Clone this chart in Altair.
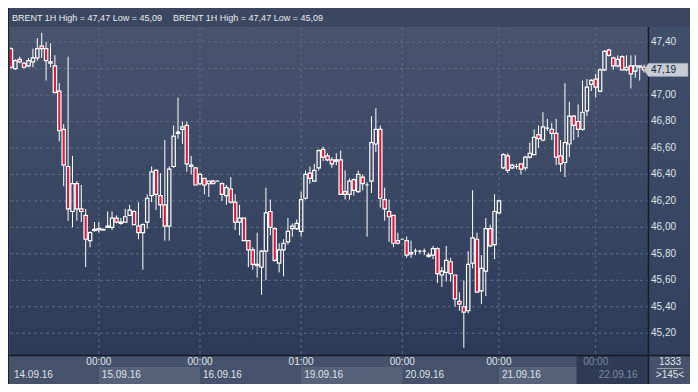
import altair as alt
import pandas as pd

# ---------------- data ----------------
opens = [47.35, 47.20, 47.27, 47.24, 47.22, 47.25, 47.28, 47.37, 47.35, 47.25,
         47.22, 47.03, 46.74, 46.46, 46.12, 46.33, 46.14, 46.09, 45.90, 45.975,
         45.99, 45.98, 46.00, 46.00, 46.07, 46.03, 46.04, 46.09, 46.12, 46.01,
         45.96, 46.04, 46.24, 46.43, 46.24, 46.17, 46.01, 46.46, 46.71, 46.74,
         46.77, 46.47, 46.45, 46.33, 46.37, 46.33, 46.35, 46.35, 46.33, 46.24,
         46.29, 46.19, 46.04, 46.07, 45.90, 45.83, 45.72, 45.70, 45.82, 46.12,
         45.99, 45.73, 45.83, 45.89, 45.99, 45.99, 45.97, 46.22, 46.41, 46.35,
         46.45, 46.59, 46.54, 46.51, 46.50, 46.51, 46.27, 46.25, 46.36, 46.27,
         46.38, 46.32, 46.35, 46.63, 46.74, 46.21, 46.12, 46.09, 45.90, 45.91,
         45.90, 45.81, 45.82, 45.82, 45.82, 45.79, 45.79, 45.84, 45.64, 45.66,
         45.74, 45.64, 45.44, 45.40, 45.37, 45.73, 45.91, 45.52, 45.67, 45.99,
         45.87, 46.11, 46.45, 46.54, 46.45, 46.46, 46.48, 46.45, 46.53, 46.55,
         46.70, 46.66, 46.75, 46.74, 46.71, 46.54, 46.49, 46.63, 46.84, 46.80,
         46.74, 46.88, 47.08, 47.12, 47.03, 47.19, 47.34, 47.28, 47.22, 47.29,
         47.19, 47.22, 47.18, 47.21, 47.21]
highs = [47.36, 47.27, 47.29, 47.25, 47.28, 47.35, 47.43, 47.47, 47.40, 47.39,
         47.30, 47.09, 46.78, 47.29, 46.54, 46.35, 46.32, 46.14, 45.97, 46.04,
         46.04, 45.99, 46.12, 46.12, 46.09, 46.07, 46.14, 46.17, 46.13, 46.19,
         46.03, 46.25, 46.46, 46.44, 46.41, 46.66, 46.46, 46.77, 46.98, 46.80,
         46.80, 46.54, 46.45, 46.41, 46.37, 46.35, 46.36, 46.35, 46.34, 46.32,
         46.38, 46.25, 46.17, 46.07, 45.90, 45.85, 45.96, 45.83, 46.30, 46.21,
         46.00, 45.88, 45.91, 46.07, 46.03, 46.06, 46.27, 46.43, 46.46, 46.48,
         46.59, 46.61, 46.56, 46.53, 46.56, 46.58, 46.43, 46.37, 46.37, 46.43,
         46.40, 46.34, 46.84, 46.90, 46.77, 46.30, 46.21, 46.09, 45.96, 45.91,
         45.93, 45.90, 45.84, 45.83, 45.84, 45.81, 45.86, 45.85, 45.70, 45.86,
         45.77, 45.64, 45.51, 45.60, 45.82, 46.28, 45.96, 45.79, 46.07, 46.02,
         46.25, 46.21, 46.56, 46.56, 46.48, 46.48, 46.48, 46.54, 46.64, 46.74,
         46.77, 46.87, 46.82, 46.79, 46.82, 46.66, 47.09, 46.95, 46.85, 46.93,
         47.11, 47.12, 47.12, 47.16, 47.20, 47.34, 47.35, 47.29, 47.30, 47.30,
         47.30, 47.30, 47.30, 47.22, 47.23]
lows = [47.20, 47.19, 47.24, 47.20, 47.21, 47.21, 47.26, 47.28, 47.11, 47.21,
        47.01, 46.65, 46.31, 46.05, 46.00, 46.05, 46.04, 45.70, 45.85, 45.97,
        45.96, 45.98, 46.00, 45.98, 46.03, 46.02, 46.04, 46.09, 46.02, 45.91,
        45.68, 45.99, 46.19, 46.13, 46.07, 45.90, 45.90, 46.45, 46.67, 46.63,
        46.42, 46.40, 46.32, 46.32, 46.25, 46.23, 46.33, 46.35, 46.20, 46.17,
        46.18, 45.98, 45.94, 45.90, 45.70, 45.68, 45.62, 45.49, 45.60, 45.94,
        45.74, 45.66, 45.63, 45.87, 45.93, 45.98, 45.93, 46.21, 46.33, 46.35,
        46.43, 46.50, 46.50, 46.45, 46.47, 46.25, 46.21, 46.21, 46.24, 46.26,
        46.28, 45.93, 46.26, 46.57, 46.15, 46.05, 45.89, 45.85, 45.87, 45.91,
        45.77, 45.77, 45.79, 45.80, 45.79, 45.77, 45.76, 45.58, 45.55, 45.59,
        45.59, 45.40, 45.37, 45.09, 45.35, 45.69, 45.51, 45.42, 45.48, 45.85,
        45.76, 46.10, 46.44, 46.41, 46.44, 46.44, 46.40, 46.43, 46.52, 46.55,
        46.60, 46.65, 46.73, 46.66, 46.47, 46.42, 46.38, 46.53, 46.66, 46.68,
        46.73, 46.84, 47.03, 46.98, 47.02, 47.18, 47.29, 47.19, 47.21, 47.19,
        47.18, 47.05, 47.13, 47.11, 47.17]
closes = [47.21, 47.26, 47.25, 47.21, 47.26, 47.28, 47.35, 47.35, 47.26, 47.24,
          47.02, 46.73, 46.47, 46.14, 46.33, 46.14, 46.12, 45.91, 45.96, 45.985,
          45.98, 45.985, 46.01, 46.07, 46.04, 46.04, 46.08, 46.13, 46.02, 45.96,
          46.02, 46.22, 46.42, 46.25, 46.17, 46.01, 46.44, 46.69, 46.72, 46.76,
          46.48, 46.46, 46.32, 46.40, 46.32, 46.35, 46.33, 46.35, 46.25, 46.30,
          46.19, 46.04, 46.07, 45.90, 45.83, 45.72, 45.71, 45.82, 46.11, 46.00,
          45.75, 45.83, 45.88, 45.97, 46.01, 46.03, 46.21, 46.40, 46.37, 46.43,
          46.58, 46.53, 46.51, 46.48, 46.51, 46.25, 46.25, 46.35, 46.28, 46.40,
          46.33, 46.32, 46.64, 46.74, 46.22, 46.14, 46.08, 45.88, 45.88, 45.91,
          45.79, 45.80, 45.82, 45.82, 45.82, 45.78, 45.84, 45.65, 45.67, 45.75,
          45.65, 45.46, 45.42, 45.36, 45.72, 45.92, 45.51, 45.69, 45.99, 45.86,
          46.12, 46.20, 46.55, 46.43, 46.47, 46.46, 46.44, 46.53, 46.56, 46.68,
          46.67, 46.76, 46.75, 46.71, 46.53, 46.48, 46.64, 46.84, 46.77, 46.74,
          46.87, 47.06, 47.11, 47.06, 47.19, 47.33, 47.30, 47.22, 47.27, 47.19,
          47.21, 47.16, 47.22, 47.22, 47.19]

y_ticks = [45.2, 45.4, 45.6, 45.8, 46.0, 46.2, 46.4, 46.6, 46.8, 47.0, 47.2, 47.4]
day_idx = [20, 43, 66, 89, 111, 133]
time_labels = ["00:00", "00:00", "01:00", "00:00", "00:00", "00:00"]
date_idx = [0, 20, 43, 66, 89, 111, 133]
date_labels = ["14.09.16", "15.09.16", "16.09.16", "19.09.16", "20.09.16", "21.09.16", "22.09.16"]
box_start = [20, 66, 111]
box_end = [43, 89, 133]
title_text = "BRENT 1H High = 47,47 Low = 45,09"
bars_total = "1333"
bars_visible = ">145<"

# ---------------- layout / style ----------------
PW, PH = 638, 328
X_DOM = [-0.2115, 144.89]
Y_DOM = [45.0355, 47.514]
RED = "#e3173b"
GRID = "#5b6882"
LABEL = "#dfe3ea"
FADED = "#7b879c"
FONT = "Liberation Sans"

df = pd.DataFrame({"idx": list(range(len(opens))), "open": opens, "high": highs,
                   "low": lows, "close": closes})
one = pd.DataFrame({"a": [0]})

xs = alt.Scale(domain=X_DOM, nice=False, zero=False)
ys = alt.Scale(domain=Y_DOM, nice=False, zero=False)
COMMA = "replace(format(datum.{}, '.2f'), '.', ',')"


def grad(top, bottom):
    return alt.LinearGradient(gradient="linear",
                              stops=[alt.GradientStop(color=top, offset=0),
                                     alt.GradientStop(color=bottom, offset=1)],
                              x1=0, x2=0, y1=0, y2=1)


def panel(x0, x1, y0, y1, color):
    return alt.Chart(one).mark_rect(color=color).encode(
        x=alt.value(x0), x2=alt.value(x1), y=alt.value(y0), y2=alt.value(y1))


plot_bg = panel(0, PW, 0, PH, grad("#48546e", "#2c3a58"))
right_bg = panel(PW, PW + 42, 0, PH, grad("#414e6a", "#33405d"))
bottom_bg = panel(-2, PW + 42, PH, PH + 29, "#46526b")

boxes = alt.Chart(pd.DataFrame({"s": box_start, "e": box_end})).mark_rect(color="#56627a").encode(
    x=alt.X("s:Q", scale=xs, axis=None), x2="e:Q",
    y=alt.value(PH + 12), y2=alt.value(PH + 29))
dark_box = panel(566.5, PW, PH + 1, PH + 29, "#2f3b55")

tick_df = pd.DataFrame({"v": y_ticks})
hgrid = alt.Chart(tick_df).mark_rule(color=GRID, strokeDash=[3, 3], strokeWidth=1).encode(
    y=alt.Y("v:Q", scale=ys, axis=None), x=alt.value(0), x2=alt.value(PW))
ylabels = alt.Chart(tick_df).transform_calculate(lbl=COMMA.format("v")).mark_text(
    align="left", baseline="middle", font=FONT, fontSize=10, color=LABEL).encode(
    y=alt.Y("v:Q", scale=ys, axis=None), x=alt.value(PW + 3), text="lbl:N")
vgrid = alt.Chart(pd.DataFrame({"i": day_idx})).mark_rule(color=GRID, strokeDash=[3, 3], strokeWidth=1).encode(
    x=alt.X("i:Q", scale=xs, axis=None), y=alt.value(0), y2=alt.value(PH))

candles = alt.Chart(df).transform_calculate(
    top="max(datum.open, datum.close)", bot="min(datum.open, datum.close)",
    x0="datum.idx - 0.38", x1="datum.idx + 0.38")

wick_hi = candles.mark_rule(color="white", strokeWidth=1, clip=True).encode(
    x=alt.X("idx:Q", scale=xs, axis=None), y=alt.Y("high:Q", scale=ys, axis=None), y2="top:Q")
wick_lo = candles.mark_rule(color="white", strokeWidth=1, clip=True).encode(
    x=alt.X("idx:Q", scale=xs, axis=None), y=alt.Y("bot:Q", scale=ys, axis=None), y2="low:Q")
bodies = candles.mark_rect(stroke="white", strokeWidth=1.2, clip=True).encode(
    x=alt.X("x0:Q", scale=xs, axis=None), x2="x1:Q",
    y=alt.Y("top:Q", scale=ys, axis=None), y2="bot:Q",
    fill=alt.condition("datum.close < datum.open", alt.value(RED), alt.value("transparent")))

sep_v = alt.Chart(one).mark_rule(color="#151b27", strokeWidth=1.5).encode(
    x=alt.value(PW + 0.5), y=alt.value(0), y2=alt.value(PH + 29))
sep_h = alt.Chart(one).mark_rule(color="#151b27", strokeWidth=1.5).encode(
    y=alt.value(PH + 0.5), x=alt.value(-2), x2=alt.value(PW + 42))
sep_l = alt.Chart(one).mark_rule(color="#1d2433", strokeWidth=1).encode(
    x=alt.value(-1.5), y=alt.value(-19), y2=alt.value(PH + 29))

last = df.iloc[[-1]]
tag = alt.Chart(last).mark_point(
    shape="M -1 0 L -0.8 -0.3 L 1 -0.3 L 1 0.3 L -0.8 0.3 Z",
    filled=True, fill="#c7ccd5", stroke="#9098a8", strokeWidth=0.5, size=44 * 44, opacity=1).encode(
    x=alt.value(PW + 18), y=alt.Y("close:Q", scale=ys, axis=None))
tag_text = alt.Chart(last).transform_calculate(lbl=COMMA.format("close")).mark_text(
    align="left", baseline="middle", font=FONT, fontSize=10, color="#1b2230").encode(
    x=alt.value(PW + 3), y=alt.Y("close:Q", scale=ys, axis=None), text="lbl:N")

title1 = alt.Chart(one).mark_text(align="left", baseline="middle", font=FONT, fontSize=9,
                                  color="#e8ebf0", text=title_text).encode(
    x=alt.value(2), y=alt.value(-9.5))
title2 = alt.Chart(one).mark_text(align="left", baseline="middle", font=FONT, fontSize=9,
                                  color="#e8ebf0", text=title_text).encode(
    x=alt.value(163), y=alt.value(-9.5))

times = alt.Chart(pd.DataFrame({"i": day_idx, "t": time_labels})).mark_text(
    align="center", baseline="middle", font=FONT, fontSize=10).encode(
    x=alt.X("i:Q", scale=xs, axis=None), y=alt.value(PH + 7), text="t:N",
    color=alt.condition("datum.i > 128", alt.value(FADED), alt.value(LABEL)))
dates = alt.Chart(pd.DataFrame({"i": date_idx, "t": date_labels})).mark_text(
    align="left", baseline="middle", font=FONT, fontSize=10, dx=3).encode(
    x=alt.X("i:Q", scale=xs, axis=None), y=alt.value(PH + 20), text="t:N",
    color=alt.condition("datum.i > 128", alt.value(FADED), alt.value(LABEL)))

corner1 = alt.Chart(one).mark_text(align="center", baseline="middle", font=FONT, fontSize=10,
                                   color=LABEL, text=bars_total).encode(
    x=alt.value(PW + 22), y=alt.value(PH + 7))
corner2 = alt.Chart(one).mark_text(align="center", baseline="middle", font=FONT, fontSize=10,
                                   color=LABEL, text=bars_visible).encode(
    x=alt.value(PW + 22), y=alt.value(PH + 20))
corner_line = alt.Chart(one).mark_rule(color="#9aa3b3", strokeWidth=1).encode(
    y=alt.value(PH + 13.5), x=alt.value(PW + 9), x2=alt.value(PW + 35))

chart = alt.layer(
    plot_bg, right_bg, bottom_bg, boxes, dark_box, hgrid, vgrid, ylabels,
    wick_hi, wick_lo, bodies, sep_v, sep_h, sep_l, tag, tag_text,
    title1, title2, times, dates, corner1, corner2, corner_line
).properties(
    width=PW, height=PH,
    padding={"left": 2, "top": 19, "right": 42, "bottom": 29},
    autosize=alt.AutoSizeParams(type="none"),
    background="#3b4760"
).configure_view(stroke=None)

chart.save("out.html", embed_options={"renderer": "svg", "actions": False})
